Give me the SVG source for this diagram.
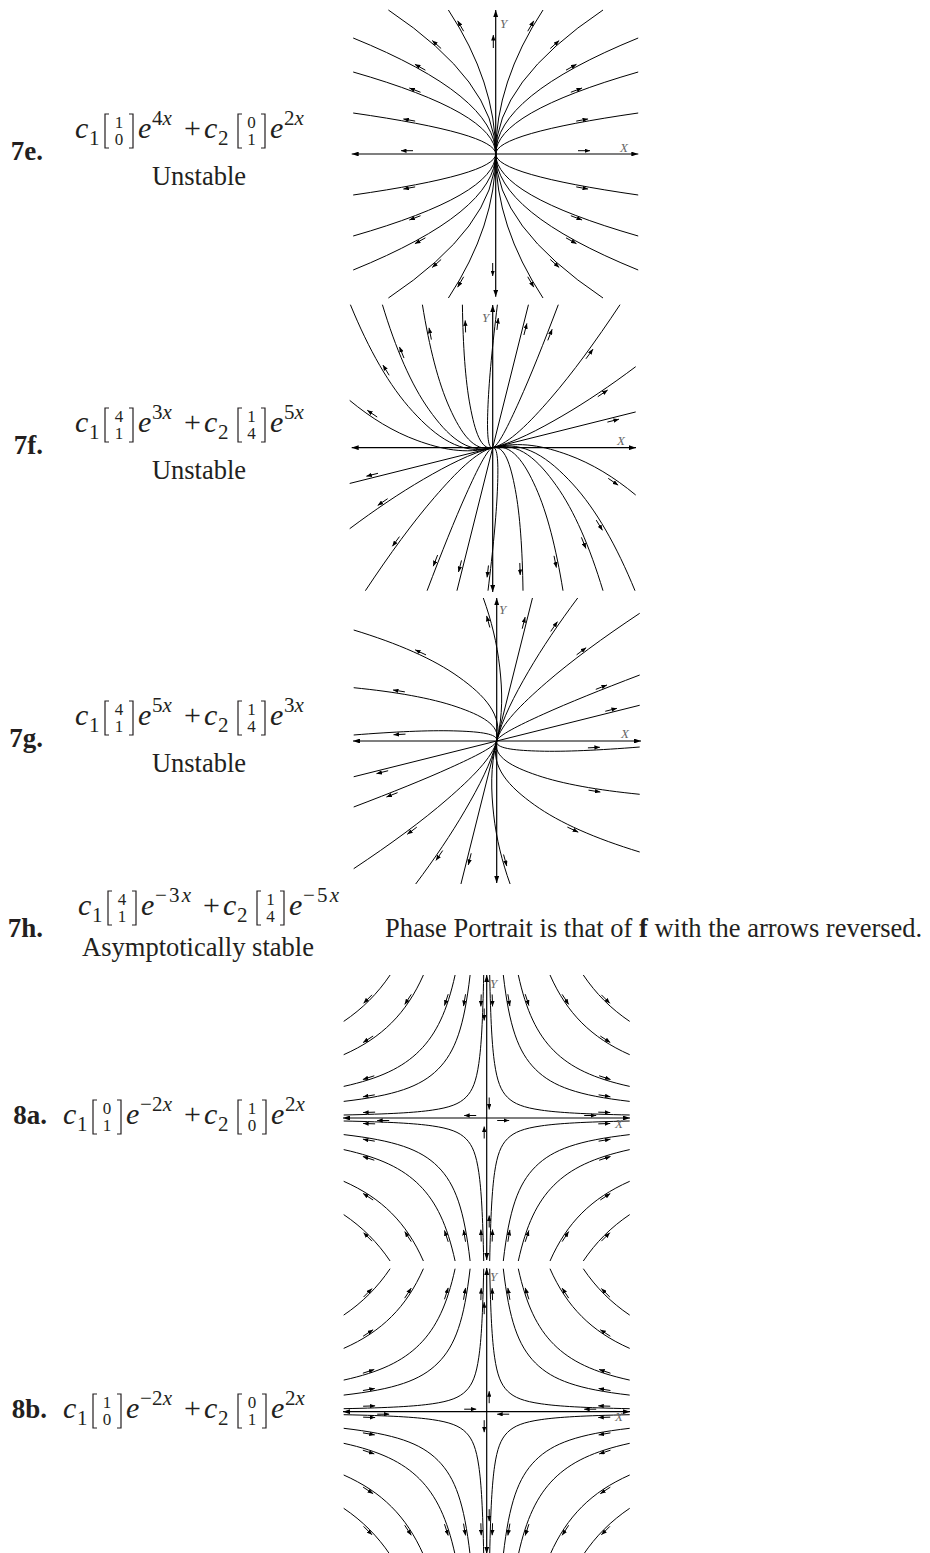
<svg xmlns="http://www.w3.org/2000/svg" width="930" height="1553" viewBox="0 0 930 1553">
<style>
.t{font-family:"Liberation Serif","Times New Roman",serif;fill:#231f20}
.lb{font-weight:bold;font-size:27px;text-anchor:end}
.m{font-size:30px;font-style:italic}
.rm{font-size:30px}
.s{font-size:21px}
.v{font-size:17px;text-anchor:middle}
.tx{font-size:26.5px}
.mid{text-anchor:middle}
.it{font-style:italic}
.br{fill:none;stroke:#231f20;stroke-width:1.2}
.cv{fill:none;stroke:#000;stroke-width:1}
.ax{fill:none;stroke:#000;stroke-width:1.2;marker-start:url(#axh);marker-end:url(#axh)}
.ar{fill:none;stroke:#000;stroke-width:1;marker-end:url(#ah)}
.an{fill:none;stroke:#000;stroke-width:1}
.al{font-family:"Liberation Serif",serif;font-style:italic;font-size:13px;fill:#666}
</style>
<defs>
<marker id="ah" viewBox="0 0 10 8" refX="10" refY="4" markerWidth="5.5" markerHeight="4.4" markerUnits="userSpaceOnUse" orient="auto-start-reverse"><path d="M0,0L10,4L0,8z" fill="#000"/></marker>
<marker id="axh" viewBox="0 0 10 7" refX="10" refY="3.5" markerWidth="7" markerHeight="4.9" markerUnits="userSpaceOnUse" orient="auto-start-reverse"><path d="M0,0L10,3.5L0,7z" fill="#000"/></marker>
<g id="hq">
<path class="cv" d="M96.6,143C109.25,124.28 124.28,109.25 143,96.6"/>
<path class="cv" d="M63.3,143C71.9,123.58 82.22,108.06 95.14,95.14C108.06,82.22 123.58,71.9 143,63.3"/>
<path class="cv" d="M31.6,143C39.55,107.02 50.31,84.13 67.22,67.22C84.13,50.31 107.02,39.55 143,31.6"/>
<path class="cv" d="M16.6,143C22.56,91.68 31.23,66.21 48.72,48.72C66.21,31.23 91.68,22.56 143,16.6"/>
<path class="cv" d="M3,143C3.97,96.98 5.36,71.99 7.9,54.46C10.44,36.93 14.07,27.41 20.74,20.74C27.41,14.07 36.93,10.44 54.46,7.9C71.99,5.36 96.98,3.97 143,3"/>
</g>
<g id="hyp">
<use href="#hq"/><use href="#hq" transform="scale(-1,1)"/><use href="#hq" transform="scale(1,-1)"/><use href="#hq" transform="scale(-1,-1)"/>
</g>
<g id="a8q">
<path class="an" d="M5.47,123.56L5.85,111.56"/>
<path class="an" d="M21.16,123.76L23.18,111.92"/>
<path class="an" d="M38.49,123.83L42.23,112.41"/>
<path class="an" d="M75.42,123.62L82,113.58"/>
<path class="an" d="M114.67,123.15L123.15,114.67"/>
<path class="an" d="M113.58,82L123.62,75.42"/>
<path class="an" d="M112.41,42.23L123.83,38.49"/>
<path class="an" d="M111.92,23.18L123.76,21.16"/>
<path class="an" d="M111.56,5.85L123.56,5.47"/>
</g>
<g id="a8x">
<path class="an" d="M10.5,-2.5L22.5,-2.5"/>
<path class="an" d="M97.5,2.5L109.5,2.5"/>
<path class="an" d="M2.5,20.5L2.5,8.5"/>
<path class="an" d="M-2.5,109.5L-2.5,97.5"/>
</g>
<g id="a8all">
<use href="#a8q"/><use href="#a8q" transform="scale(-1,1)"/><use href="#a8q" transform="scale(1,-1)"/><use href="#a8q" transform="scale(-1,-1)"/>
<use href="#a8x"/><use href="#a8x" transform="rotate(180)"/>
</g>
<g id="e7q">
<path class="cv" d="M0,0Q0,72 47.3,144M0,0Q0,72 107.3,144M0,0Q0,58 142.5,116M0,0Q0,41 142.5,82M0,0Q0,20.5 142.5,41"/>
<path class="ar" d="M32.05,122.81L38.07,133.19"/>
<path class="ar" d="M54.56,105.49L63.5,113.49"/>
<path class="ar" d="M70.3,83.83L80.78,89.67"/>
<path class="ar" d="M75.14,61.73L86.36,66.01"/>
<path class="ar" d="M80.54,32.88L92.34,35.06"/>
</g>
</defs>

<g id="p7e">
<text class="t lb" x="43" y="160">7e.</text>
<text class="t m" x="75" y="138">c</text><text class="t s" x="89" y="145">1</text>
<path class="br" d="M109,114H105V148H109M129,114H133V148H129"/>
<text class="t v" x="119" y="128">1</text><text class="t v" x="119" y="145">0</text>
<text class="t m" x="138" y="138">e</text><text class="t s" x="152" y="125">4<tspan class="it">x</tspan></text>
<text class="t rm" x="184" y="138">+</text>
<text class="t m" x="204" y="138">c</text><text class="t s" x="218" y="145">2</text>
<path class="br" d="M242,114H238V148H242M261,114H265V148H261"/>
<text class="t v" x="251.5" y="128">0</text><text class="t v" x="251.5" y="145">1</text>
<text class="t m" x="270" y="138">e</text><text class="t s" x="284" y="125">2<tspan class="it">x</tspan></text>
<text class="t tx mid" x="199" y="185">Unstable</text>
<g transform="translate(495.7,154) scale(1,-1)">
<use href="#e7q"/><use href="#e7q" transform="scale(-1,1)"/><use href="#e7q" transform="scale(1,-1)"/><use href="#e7q" transform="scale(-1,-1)"/>
<path class="ax" d="M-144,0H142.6"/><path class="ax" d="M0,-142.7V144"/>
<path class="ar" d="M82.3,3.3L94.3,3.3"/><path class="ar" d="M-82.7,3.3L-94.7,3.3"/>
<path class="ar" d="M-2.4,106L-2.4,119"/><path class="ar" d="M-3,-109L-3,-122"/>
</g>
<text class="al" x="620" y="152">X</text><text class="al" x="500" y="28">Y</text>
</g>

<g id="p7f">
<text class="t lb" x="43" y="454">7f.</text>
<text class="t m" x="75" y="432">c</text><text class="t s" x="89" y="439">1</text>
<path class="br" d="M109,408H105V442H109M129,408H133V442H129"/>
<text class="t v" x="119" y="422">4</text><text class="t v" x="119" y="439">1</text>
<text class="t m" x="138" y="432">e</text><text class="t s" x="152" y="419">3<tspan class="it">x</tspan></text>
<text class="t rm" x="184" y="432">+</text>
<text class="t m" x="204" y="432">c</text><text class="t s" x="218" y="439">2</text>
<path class="br" d="M242,408H238V442H242M261,408H265V442H261"/>
<text class="t v" x="251.5" y="422">1</text><text class="t v" x="251.5" y="439">4</text>
<text class="t m" x="270" y="432">e</text><text class="t s" x="284" y="419">5<tspan class="it">x</tspan></text>
<text class="t tx mid" x="199" y="479">Unstable</text>
<g transform="translate(492.7,447.7) scale(1,-1)">
<g id="f7h">
<path class="cv" d="M0,0C5.31,1.33 15.34,21.56 26.55,46.52C37.77,71.48 50.9,104.16 65.6,143"/>
<path class="cv" d="M0,0C16.28,4.07 36.69,24.73 58.16,49.57C79.63,74.39 102.77,105.99 127.3,143"/>
<path class="cv" d="M0,0C21.83,5.46 45.32,17.66 69.26,31.58C93.2,45.49 117.8,62.13 143,81"/>
<path class="cv" d="M0,0C27.54,6.88 51.94,1.35 75.6,-7.26C99.27,-15.87 121.63,-29.6 143,-47.3"/>
<path class="cv" d="M0,0C31.67,7.91 56.62,-10.86 79.96,-36.26C103.3,-61.67 123.87,-98.02 142.3,-143"/>
<path class="cv" d="M0,0C25.98,6.49 45.55,-12.5 63.57,-37.84C81.59,-63.18 96.98,-98.97 110.3,-143"/>
<path class="cv" d="M0,0C18.86,4.71 31.71,-14.56 43.07,-39.81C54.44,-65.07 63.34,-100.15 70.3,-143"/>
<path class="cv" d="M0,0C11.75,2.94 17.85,-16.62 22.57,-41.78C27.3,-66.94 29.7,-101.32 30.3,-143"/>
<path class="cv" d="M0,0C5.52,1.38 5.75,-18.42 4.65,-43.51C3.55,-68.61 0.29,-102.36 -4.7,-143"/>
<path class="cv" d="M0,0L143,35.75M0,0L35.75,143"/>
<path class="ar" d="M55.09,107.32L59.45,118.5"/>
<path class="ar" d="M93.24,88.91L100.32,98.59"/>
<path class="ar" d="M105.07,50.99L114.99,57.73"/>
<path class="ar" d="M114.7,25.6L126.3,28.5"/>
<path class="ar" d="M31.2,112.7L34.2,124.3"/>
<path class="ar" d="M115.52,-30.67L125.44,-37.43"/>
<path class="ar" d="M103.53,-72.42L109.75,-82.66"/>
<path class="ar" d="M88.7,-89.64L93.22,-100.76"/>
<path class="ar" d="M61.31,-108.14L63.69,-119.9"/>
<path class="ar" d="M27.1,-115.28L27.49,-127.28"/>
<path class="ar" d="M-4.24,-117.77L-5.6,-129.69"/>
</g>
<use href="#f7h" transform="rotate(180)"/>
<path class="ax" d="M-141,0H143.3"/><path class="ax" d="M0,-144.3V142.7"/>
</g>
<text class="al" x="617" y="445">X</text><text class="al" x="482" y="322">Y</text>
</g>

<g id="p7g">
<text class="t lb" x="43" y="747">7g.</text>
<text class="t m" x="75" y="725">c</text><text class="t s" x="89" y="732">1</text>
<path class="br" d="M109,701H105V735H109M129,701H133V735H129"/>
<text class="t v" x="119" y="715">4</text><text class="t v" x="119" y="732">1</text>
<text class="t m" x="138" y="725">e</text><text class="t s" x="152" y="712">5<tspan class="it">x</tspan></text>
<text class="t rm" x="184" y="725">+</text>
<text class="t m" x="204" y="725">c</text><text class="t s" x="218" y="732">2</text>
<path class="br" d="M242,701H238V735H242M261,701H265V735H261"/>
<text class="t v" x="251.5" y="715">1</text><text class="t v" x="251.5" y="732">4</text>
<text class="t m" x="270" y="725">e</text><text class="t s" x="284" y="712">3<tspan class="it">x</tspan></text>
<text class="t tx mid" x="199" y="772">Unstable</text>
<g transform="translate(496.7,741) scale(1,-1)">
<g id="g7h">
<path class="cv" d="M0,0C5.46,21.83 17.66,45.32 31.58,69.26C45.49,93.2 62.13,117.8 81,143"/>
<path class="cv" d="M0,0C4.09,16.35 24.76,36.84 49.58,58.37C74.41,79.9 106,103.11 143,127.7"/>
<path class="cv" d="M0,0C1.35,5.38 21.58,15.48 46.54,26.76C71.49,38.05 104.17,51.25 143,66"/>
<path class="cv" d="M0,0C6.51,26.03 5.66,50.19 3,73.93C0.33,97.67 -5.36,120.62 -13.4,143"/>
<path class="cv" d="M0,0C6.52,26.1 -12.47,45.79 -37.8,63.92C-63.14,82.05 -98.94,97.55 -143,111"/>
<path class="cv" d="M0,0C3.96,15.84 -15.44,25.82 -40.65,34.37C-65.87,42.91 -100.66,49.06 -143,53.3"/>
<path class="cv" d="M0,0C1.86,7.42 -17.87,9.45 -42.98,10.12C-68.1,10.8 -102.04,9.28 -143,6"/>
<path class="cv" d="M0,0L143,35.75M0,0L35.75,143"/>
<path class="ar" d="M-6.85,113.52L-10.07,125.08"/>
<path class="ar" d="M25.51,112.29L28.43,123.93"/>
<path class="ar" d="M54,109.54L60.8,119.42"/>
<path class="ar" d="M79.89,86.14L89.47,93.36"/>
<path class="ar" d="M99.11,51.64L110.27,56.06"/>
<path class="ar" d="M108.57,29.72L120.21,32.64"/>
<path class="ar" d="M-70.67,86.09L-81.55,91.17"/>
<path class="ar" d="M-91.81,49.14L-103.67,51.02"/>
<path class="ar" d="M-91.21,6.87L-103.19,6.25"/>
</g>
<use href="#g7h" transform="rotate(180)"/>
<path class="ax" d="M-143.7,0H144.3"/><path class="ax" d="M0,-142V143"/>
</g>
<text class="al" x="621" y="738">X</text><text class="al" x="499" y="614">Y</text>
</g>

<g id="p7h">
<text class="t lb" x="43" y="937">7h.</text>
<text class="t m" x="78" y="915">c</text><text class="t s" x="92" y="922">1</text>
<path class="br" d="M112,891H108V925H112M132,891H136V925H132"/>
<text class="t v" x="122" y="905">4</text><text class="t v" x="122" y="922">1</text>
<text class="t m" x="141" y="915">e</text><text class="t s" x="155" y="902" textLength="36" lengthAdjust="spacing">−3<tspan class="it">x</tspan></text>
<text class="t rm" x="203" y="915">+</text>
<text class="t m" x="223" y="915">c</text><text class="t s" x="237" y="922">2</text>
<path class="br" d="M261,891H257V925H261M280,891H284V925H280"/>
<text class="t v" x="270.5" y="905">1</text><text class="t v" x="270.5" y="922">4</text>
<text class="t m" x="289" y="915">e</text><text class="t s" x="303" y="902" textLength="36" lengthAdjust="spacing">−5<tspan class="it">x</tspan></text>
<text class="t tx mid" x="198" y="956">Asymptotically stable</text>
<text class="t tx" x="385" y="937">Phase Portrait is that of <tspan font-weight="bold">f</tspan> with the arrows reversed.</text>
</g>

<g id="p8a">
<text class="t lb" x="47" y="1124">8a.</text>
<text class="t m" x="63" y="1124">c</text><text class="t s" x="77" y="1131">1</text>
<path class="br" d="M97,1100H93V1134H97M117,1100H121V1134H117"/>
<text class="t v" x="107" y="1114">0</text><text class="t v" x="107" y="1131">1</text>
<text class="t m" x="126" y="1124">e</text><text class="t s" x="140" y="1111" textLength="32" lengthAdjust="spacing">−2<tspan class="it">x</tspan></text>
<text class="t rm" x="184" y="1124">+</text>
<text class="t m" x="204" y="1124">c</text><text class="t s" x="218" y="1131">2</text>
<path class="br" d="M242,1100H238V1134H242M262,1100H266V1134H262"/>
<text class="t v" x="252" y="1114">1</text><text class="t v" x="252" y="1131">0</text>
<text class="t m" x="271" y="1124">e</text><text class="t s" x="285" y="1111">2<tspan class="it">x</tspan></text>
<g transform="translate(486.7,1118) scale(1,-1)">
<use href="#hyp"/>
<use href="#a8all" style="marker-end:url(#ah)"/>
<path class="ax" d="M-143.7,0H143.3"/><path class="ax" d="M0,-142V143"/>
</g>
<text class="al" x="615" y="1128">X</text><text class="al" x="490" y="988">Y</text>
</g>

<g id="p8b">
<text class="t lb" x="47" y="1418">8b.</text>
<text class="t m" x="63" y="1418">c</text><text class="t s" x="77" y="1425">1</text>
<path class="br" d="M97,1394H93V1428H97M117,1394H121V1428H117"/>
<text class="t v" x="107" y="1408">1</text><text class="t v" x="107" y="1425">0</text>
<text class="t m" x="126" y="1418">e</text><text class="t s" x="140" y="1405" textLength="32" lengthAdjust="spacing">−2<tspan class="it">x</tspan></text>
<text class="t rm" x="184" y="1418">+</text>
<text class="t m" x="204" y="1418">c</text><text class="t s" x="218" y="1425">2</text>
<path class="br" d="M242,1394H238V1428H242M262,1394H266V1428H262"/>
<text class="t v" x="252" y="1408">0</text><text class="t v" x="252" y="1425">1</text>
<text class="t m" x="271" y="1418">e</text><text class="t s" x="285" y="1405">2<tspan class="it">x</tspan></text>
<g transform="translate(486.7,1411.7) scale(1,-1)">
<use href="#hyp"/>
<use href="#a8all" style="marker-start:url(#ah)"/>
<path class="ax" d="M-143.7,0H143.3"/><path class="ax" d="M0,-142V143.7"/>
</g>
<text class="al" x="615" y="1421">X</text><text class="al" x="490" y="1281">Y</text>
</g>
</svg>
